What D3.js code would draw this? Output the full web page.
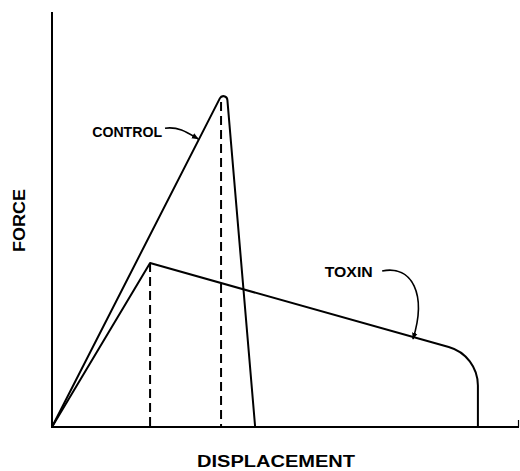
<!DOCTYPE html>
<html>
<head>
<meta charset="utf-8">
<script src="https://cdn.jsdelivr.net/npm/d3@7"></script>
<style>
  body { margin: 0; background: #fff; }
  text { font-family: "Liberation Sans", Arial, sans-serif; font-weight: bold; fill: #000; }
</style>
</head>
<body>
<svg></svg>
<script>
// force vs displacement curves (arbitrary units, 0-100 on both axes)
var controlCurve = [[0, 0], [37.3, 82.2], [43.5, 0]];
var toxinCurve = [[0, 0], [21.0, 39.5], [91.2, 17.3], [91.2, 0]];
// dashed drops from the yield points
var drops = [[21.0, 39.5], [36.2, 78.3]];
// labels: [text, x, y, arrow start, arrow end]
var labels = [
  ["CONTROL", 8.6, 69.9, [24.2, 72.0], [31.3, 69.4]],
  ["TOXIN", 58.4, 36.1, [70.7, 37.6], [77.3, 21.2]]
];
var xLabel = "DISPLACEMENT";
var yLabel = "FORCE";

var width = 520, height = 471;
var margin = {left: 52, right: 1, top: 12, bottom: 44};

var pic = d3.select("svg").attr("width", width).attr("height", height);

var x = d3.scaleLinear().domain([0, 100]).range([margin.left, width - margin.right]);
var y = d3.scaleLinear().domain([0, 100]).range([height - margin.bottom, margin.top]);

// path with rounded corners at chosen vertices
const roundedPath = function(pts, radii){
  var p = d3.path();
  p.moveTo(x(pts[0][0]), y(pts[0][1]));
  for (var i = 1; i < pts.length - 1; i++){
    if (radii[i] > 0)
      p.arcTo(x(pts[i][0]), y(pts[i][1]), x(pts[i+1][0]), y(pts[i+1][1]), radii[i]);
    else
      p.lineTo(x(pts[i][0]), y(pts[i][1]));
  }
  var last = pts[pts.length - 1];
  p.lineTo(x(last[0]), y(last[1]));
  return p.toString();
}

// arrowhead
pic.append("defs").append("marker")
  .attr("id", "head").attr("viewBox", "0 0 10 10")
  .attr("refX", 9).attr("refY", 5)
  .attr("markerWidth", 7).attr("markerHeight", 7)
  .attr("markerUnits", "userSpaceOnUse")
  .attr("orient", "auto")
  .append("path").attr("d", "M0,1 L10,5 L0,9 Z").attr("fill", "#000");

// axes (plain lines, no ticks)
pic.append("line")
  .attr("x1", x(0)).attr("y1", y(0)).attr("x2", x(0)).attr("y2", y(100))
  .attr("stroke", "#000").attr("stroke-width", 2);
pic.append("line")
  .attr("x1", x(0) - 1).attr("y1", y(0)).attr("x2", x(100)).attr("y2", y(0))
  .attr("stroke", "#000").attr("stroke-width", 2);
pic.append("line")
  .attr("x1", x(100) - 0.5).attr("y1", y(0)).attr("x2", x(100) - 0.5).attr("y2", y(0) - 7)
  .attr("stroke", "#000").attr("stroke-width", 1.2);

// dashed lines
pic.selectAll(".drop").data(drops).enter().append("line")
  .attr("class", "drop")
  .attr("x1", function(d){return x(d[0]);}).attr("y1", function(d){return y(d[1]);})
  .attr("x2", function(d){return x(d[0]);}).attr("y2", y(0))
  .attr("stroke", "#000").attr("stroke-width", 2)
  .attr("stroke-dasharray", "9,5");

// curves
pic.append("path")
  .attr("d", roundedPath(controlCurve, [0, 4, 0]))
  .attr("fill", "none").attr("stroke", "#000").attr("stroke-width", 2)
  .attr("stroke-linejoin", "round");
pic.append("path")
  .attr("d", roundedPath(toxinCurve, [0, 0, 40, 0]))
  .attr("fill", "none").attr("stroke", "#000").attr("stroke-width", 2)
  .attr("stroke-linejoin", "round");

// labels
pic.selectAll(".lab").data(labels).enter().append("text")
  .attr("class", "lab")
  .attr("x", function(d){return x(d[1]);}).attr("y", function(d){return y(d[2]);})
  .attr("font-size", 15)
  .attr("textLength", function(d){return d[0] == "CONTROL" ? 70 : 48;})
  .attr("lengthAdjust", "spacingAndGlyphs")
  .text(function(d){return d[0];});

// arrows from labels
pic.append("path")
  .attr("d", function(){
    var a = labels[0][3], b = labels[0][4];
    return "M" + x(a[0]) + "," + y(a[1]) + " C" + (x(a[0]) + 14) + "," + (y(a[1]) - 2) + " " +
      (x(b[0]) - 10) + "," + (y(b[1]) - 6) + " " + x(b[0]) + "," + y(b[1]);
  })
  .attr("fill", "none").attr("stroke", "#000").attr("stroke-width", 1.6)
  .attr("marker-end", "url(#head)");
pic.append("path")
  .attr("d", function(){
    var a = labels[1][3], b = labels[1][4];
    return "M" + x(a[0]) + "," + y(a[1]) + " C" + (x(a[0]) + 30) + "," + (y(a[1]) - 6) + " " +
      (x(b[0]) + 14) + "," + (y(b[1]) - 45) + " " + x(b[0]) + "," + y(b[1]);
  })
  .attr("fill", "none").attr("stroke", "#000").attr("stroke-width", 1.6)
  .attr("marker-end", "url(#head)");

// axis titles
pic.append("text")
  .attr("x", 197).attr("y", 467)
  .attr("font-size", 16)
  .attr("textLength", 158).attr("lengthAdjust", "spacingAndGlyphs")
  .text(xLabel);
pic.append("text")
  .attr("transform", "translate(25,252) rotate(-90)")
  .attr("font-size", 16)
  .attr("textLength", 63).attr("lengthAdjust", "spacingAndGlyphs")
  .text(yLabel);
</script>
</body>
</html>
